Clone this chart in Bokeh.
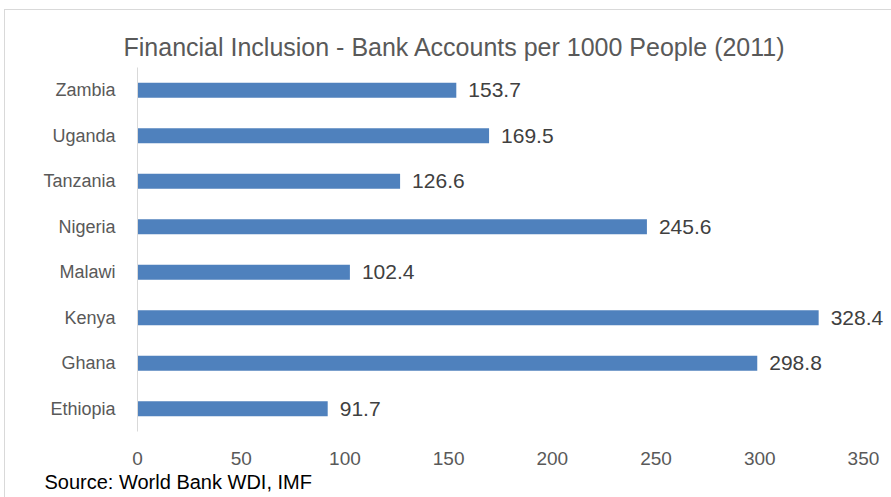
from bokeh.plotting import figure
from bokeh.models import ColumnDataSource, FactorRange, Title
from bokeh.core.properties import value
from bokeh.embed import file_html
from bokeh.resources import INLINE

countries = ["Ethiopia", "Ghana", "Kenya", "Malawi", "Nigeria", "Tanzania", "Uganda", "Zambia"]
values = [91.7, 298.8, 328.4, 102.4, 245.6, 126.6, 169.5, 153.7]
value_labels = ["91.7", "298.8", "328.4", "102.4", "245.6", "126.6", "169.5", "153.7"]
x_ticks = [0, 50, 100, 150, 200, 250, 300, 350]
title_text = "Financial Inclusion - Bank Accounts per 1000 People (2011)"
source_text = "Source: World Bank WDI, IMF"

FONT = "Liberation Sans"

src = ColumnDataSource(dict(country=countries, value=values, label=value_labels))

p = figure(width=887, height=488, y_range=FactorRange(*countries), x_range=(0, 364),
           output_backend="svg", toolbar_location=None,
           min_border_left=132, min_border_right=0, min_border_top=57, min_border_bottom=67)
p.margin = (9, 0, 0, 4)
p.styles = {"border-left": "1px solid #d9d9d9", "border-top": "1px solid #d9d9d9"}
p.outline_line_color = None
p.grid.grid_line_color = None

p.hbar(y="country", right="value", left=0, height=0.33, source=src,
       fill_color="#4F81BD", line_color=None)
p.text(x="value", y="country", text="label", source=src, x_offset=12,
       text_baseline="middle", text_align="left", text_color="#404040",
       text_font_size="21px", text_font=value(FONT))

# y axis
p.yaxis.axis_line_color = "#d9d9d9"
p.yaxis.major_tick_line_color = None
p.yaxis.minor_tick_line_color = None
p.yaxis.major_label_text_font_size = "18px"
p.yaxis.major_label_text_color = "#595959"
p.yaxis.major_label_text_font = FONT
p.yaxis.major_label_standoff = 16

# x axis
p.xaxis.ticker = x_ticks
p.xaxis.axis_line_color = None
p.xaxis.major_tick_line_color = None
p.xaxis.minor_tick_line_color = None
p.xaxis.major_label_text_font_size = "19px"
p.xaxis.major_label_text_color = "#595959"
p.xaxis.major_label_text_font = FONT
p.xaxis.major_label_standoff = 14

p.add_layout(Title(text=title_text, align="left", offset=-14, standoff=14,
                   text_font_size="25px", text_font_style="normal",
                   text_color="#595959", text_font=FONT), "above")
p.add_layout(Title(text=source_text, align="left", offset=-93, standoff=2,
                   text_font_size="20px", text_font_style="normal",
                   text_color="#000000", text_font=FONT), "below")

open("out.html", "w").write(file_html(p, INLINE))
